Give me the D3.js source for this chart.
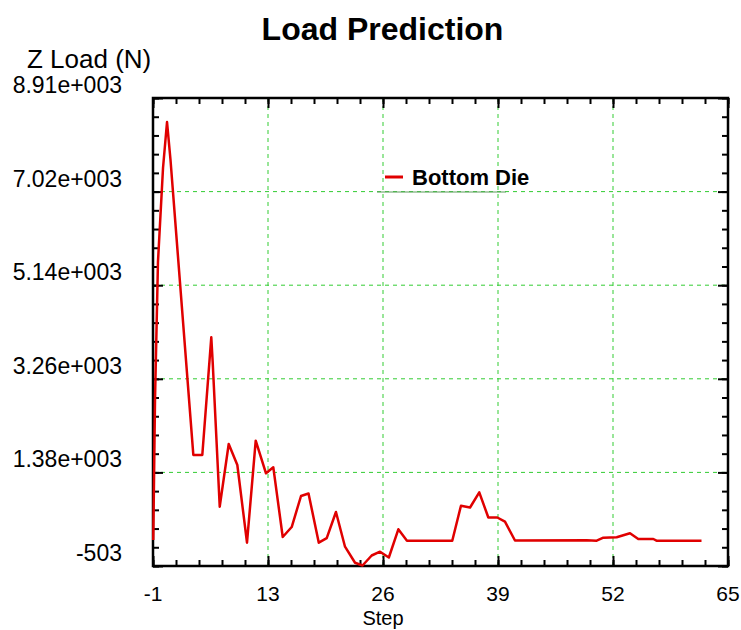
<!DOCTYPE html>
<html>
<head>
<meta charset="utf-8">
<script src="https://cdn.jsdelivr.net/npm/d3@7"></script>
<style>
  body { margin: 0; background: #fff; }
  text { font-family: "Liberation Sans", Arial, sans-serif; fill: #000; }
</style>
</head>
<body>
<div id="chart"></div>
<script>
// Load prediction data (step, Z load in N)
const steps = [-0.97, -0.77, -0.43, 0.15, 0.61, 1.01, 3.63, 4.66, 5.69, 5.85,
    6.66, 7.69, 8.68, 9.79, 10.79, 11.97, 12.81, 13.89, 14.92, 15.99,
    16.85, 18.03, 18.94, 20.0, 21.04, 22.19, 23.05, 24.10, 25.06, 26.07,
    27.16, 28.15, 33.35, 34.35, 35.39, 36.45, 37.49, 38.52, 39.40, 40.55,
    48.78, 49.93, 50.69, 52.22, 53.75, 54.70, 56.43, 56.79, 61.96];
const loads = [20, 2836, 5611, 7502, 8427, 7663, 1730, 1730, 4097, 3600,
    690, 1951, 1528, -34, 2017, 1361, 1482, 80, 281, 905,
    955, -34, 56, 583, -115, -437, -493, -292, -215, -332,
    235, 6, 6, 710, 674, 979, 472, 472, 388, 10,
    14, 6, 66, 74, 155, 40, 40, 6, 6];

const xTickLabels = ['-1', '13', '26', '39', '52', '65'];
const yTickLabels = ['-503', '1.38e+003', '3.26e+003', '5.14e+003', '7.02e+003', '8.91e+003'];
const seriesName = 'Bottom Die';
const chartTitle = 'Load Prediction';
const yTitle = 'Z Load (N)';
const xTitle = 'Step';

const width = 741, height = 630;
const plotLeft = 153, plotRight = 728, plotTop = 98, plotBottom = 566;

const svg = d3.select('#chart').append('svg')
    .attr('width', width)
    .attr('height', height);

const x = d3.scaleLinear().domain([-1, 65]).range([plotLeft, plotRight]);
const y = d3.scaleLinear().domain([-503, 8910]).range([plotBottom, plotTop]);

// major ticks split the axis in 5, minor ticks in 25
const xMajor = d3.range(6).map(i => -1 + i * 66 / 5);
const xMinor = d3.range(26).map(i => -1 + i * 66 / 25);
const yMajor = d3.range(6).map(i => -503 + i * 9413 / 5);
const yMinor = d3.range(26).map(i => -503 + i * 9413 / 25);

// Grid lines
const grid = svg.append('g')
    .attr('stroke', '#33cc33')
    .attr('stroke-width', 1)
    .attr('stroke-dasharray', '4,4');
grid.selectAll('.gx')
    .data(xMajor.slice(1, 5))
    .enter().append('line')
    .attr('x1', d => x(d)).attr('x2', d => x(d))
    .attr('y1', plotTop).attr('y2', plotBottom);
grid.selectAll('.gy')
    .data(yMajor.slice(1, 5))
    .enter().append('line')
    .attr('x1', plotLeft).attr('x2', plotRight)
    .attr('y1', d => y(d)).attr('y2', d => y(d));

// Ticks on all four sides, pointing inwards
function styleAxis(g) {
    g.select('.domain').remove();
    g.selectAll('.tick line').attr('stroke', '#000').attr('stroke-width', 2);
}
[[d3.axisBottom, x, xMinor, 6, `translate(0,${plotBottom})`],
 [d3.axisBottom, x, xMajor, 10, `translate(0,${plotBottom})`],
 [d3.axisTop, x, xMinor, 6, `translate(0,${plotTop})`],
 [d3.axisTop, x, xMajor, 10, `translate(0,${plotTop})`],
 [d3.axisLeft, y, yMinor, 6, `translate(${plotLeft},0)`],
 [d3.axisLeft, y, yMajor, 10, `translate(${plotLeft},0)`],
 [d3.axisRight, y, yMinor, 6, `translate(${plotRight},0)`],
 [d3.axisRight, y, yMajor, 10, `translate(${plotRight},0)`]
].forEach(([axisFn, scale, vals, len, tr]) => {
    svg.append('g')
        .attr('transform', tr)
        .call(axisFn(scale).tickValues(vals).tickSize(-len).tickFormat(''))
        .call(styleAxis);
});

// Tick labels
svg.append('g').selectAll('text')
    .data(xMajor)
    .enter().append('text')
    .attr('x', d => x(d))
    .attr('y', plotBottom + 35)
    .attr('text-anchor', 'middle')
    .attr('font-size', '21px')
    .text((d, i) => xTickLabels[i]);

svg.append('g').selectAll('text')
    .data(yMajor)
    .enter().append('text')
    .attr('x', 122)
    .attr('y', d => y(d) - 5)
    .attr('text-anchor', 'end')
    .attr('font-size', '23px')
    .text((d, i) => yTickLabels[i]);

// Frame
svg.append('rect')
    .attr('x', plotLeft).attr('y', plotTop)
    .attr('width', plotRight - plotLeft).attr('height', plotBottom - plotTop)
    .attr('fill', 'none')
    .attr('stroke', '#000')
    .attr('stroke-width', 2.5);

// Series line
const line = d3.line()
    .x((d, i) => x(steps[i]))
    .y(d => y(d));
svg.append('path')
    .datum(loads)
    .attr('d', line)
    .attr('fill', 'none')
    .attr('stroke', '#e00000')
    .attr('stroke-width', 2.5)
    .attr('stroke-linejoin', 'round');

// Legend
const legend = svg.append('g');
legend.append('line')
    .attr('x1', 377).attr('x2', 506)
    .attr('y1', 192).attr('y2', 192)
    .attr('stroke', '#5a9a5a')
    .attr('stroke-width', 1);
legend.append('line')
    .attr('x1', 385).attr('x2', 403)
    .attr('y1', 177).attr('y2', 177)
    .attr('stroke', '#e00000')
    .attr('stroke-width', 3);
legend.append('text')
    .attr('x', 412).attr('y', 185)
    .attr('font-size', '22px')
    .attr('font-weight', 'bold')
    .text(seriesName);

// Titles
svg.append('text')
    .attr('x', 382.5).attr('y', 40)
    .attr('text-anchor', 'middle')
    .attr('font-size', '32px')
    .attr('font-weight', 'bold')
    .text(chartTitle);

svg.append('text')
    .attr('x', 27).attr('y', 68)
    .attr('font-size', '26px')
    .text(yTitle);

svg.append('text')
    .attr('x', 383).attr('y', 625)
    .attr('text-anchor', 'middle')
    .attr('font-size', '20px')
    .text(xTitle);
</script>
</body>
</html>
